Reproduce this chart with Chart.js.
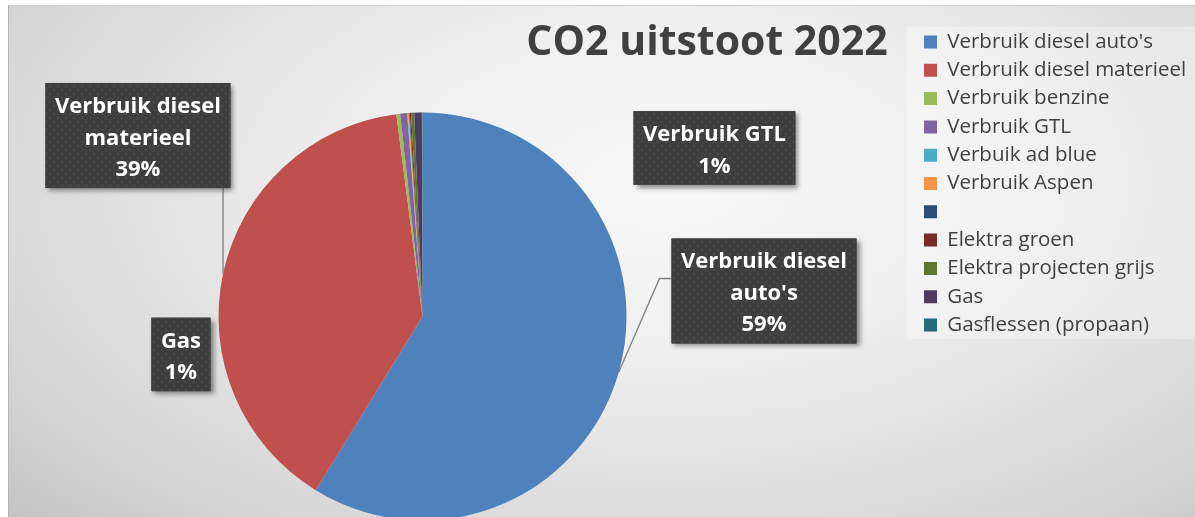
<!DOCTYPE html>
<html>
<head>
<meta charset="utf-8">
<script src="https://cdn.jsdelivr.net/npm/chart.js@4/dist/chart.umd.min.js"></script>
<style>
html, body { margin: 0; padding: 0; width: 1195px; height: 517px; overflow: hidden; background: #fff; }
#frame {
  position: absolute; left: 8px; top: 5px; width: 1187px; height: 512px; overflow: hidden;
  border-left: 1px solid #b4b4b4; border-top: 1px solid #cccccc;
  background: radial-gradient(ellipse 75% 95% at 55% 35%, #f8f8f8 0%, #efefef 35%, #e0e0e0 62%, #d5d5d5 82%, #c4c4c4 100%);
}
#pie { position: absolute; left: -109px; top: -6px; }
</style>
</head>
<body>
<div id="frame"><canvas id="pie" width="1400" height="609"></canvas></div>
<script>
const chartTitle = 'CO2 uitstoot 2022';
const categories = ["Verbruik diesel auto's", 'Verbruik diesel materieel', 'Verbruik benzine', 'Verbruik GTL',
  'Verbuik ad blue', 'Verbruik Aspen', '', 'Elektra groen', 'Elektra projecten grijs', 'Gas', 'Gasflessen (propaan)'];
const values = [58.8, 39.2, 0.3, 0.55, 0.05, 0.1, 0.05, 0.1, 0.25, 0.6, 0.05];
const colors = ['#4f81bd', '#c0504d', '#9bbb59', '#8064a2', '#4bacc6', '#f79646',
  '#2c4d75', '#772c2a', '#5f7530', '#4d3b62', '#276a7c'];

// canvas is shifted 100px left of the page, so the legend can sit at the page's right edge
const SHIFT = 100;
const FONT = '"Open Sans"';
const legFont = 20.5, legPad = 7.8, legBox = 13;
const labelFont = 'bold 22px ' + FONT;

// slice label boxes, placed in pie radii from the centre
const labelPlacement = [
  { index: 0, fx: 1.674, fy: -0.125, leader: 'elbow' },
  { index: 1, fx: -1.395, fy: -0.887, leader: 'vertical' },
  { index: 3, fx: 1.431, fy: -0.826 },
  { index: 9, fx: -1.184, fy: 0.186 }
];

// legend width, so its left edge lands where the reference has it
const mctx = document.createElement('canvas').getContext('2d');
mctx.font = legFont + 'px ' + FONT;
const maxText = Math.max(...categories.map(t => mctx.measureText(t).width));
const legendW = legPad + legBox + legFont / 2 + maxText + 10;
const legendLeft = 924 + SHIFT - legPad;
const padR = 1400 - legendW - legendLeft;
const padL = 2 * (422.5 + SHIFT) - legendLeft;
const padT = 35.5 - legPad - (legFont - legBox) / 2;
const padB = 609 - (2 * 317 - padT);

const dots = document.createElement('canvas');
dots.width = 8; dots.height = 8;
const dctx = dots.getContext('2d');
dctx.fillStyle = '#3e3e3e'; dctx.fillRect(0, 0, 8, 8);
dctx.fillStyle = '#4b4b4b'; dctx.fillRect(1, 1, 2, 2); dctx.fillRect(5, 5, 2, 2);

function wrap(ctx, text, maxW) {
  const words = text.split(' ');
  const lines = [];
  let cur = '';
  words.forEach(w => {
    const t = cur ? cur + ' ' + w : w;
    if (cur && ctx.measureText(t).width > maxW) { lines.push(cur); cur = w; } else cur = t;
  });
  if (cur) lines.push(cur);
  return lines;
}

const backdrop = {
  id: 'backdrop',
  beforeDraw(chart) {
    const ctx = chart.ctx, lg = chart.legend;
    const y0 = lg.top + legPad - 5;
    ctx.save();
    ctx.fillStyle = 'rgba(255,255,255,0.32)';
    ctx.fillRect(lg.left + legPad - 17, y0, 400, 11 * (legFont + legPad) + 1);
    ctx.restore();
  },
  afterDraw(chart) {
    const ctx = chart.ctx;
    ctx.save();
    ctx.font = 'bold 41px ' + FONT;
    ctx.fillStyle = '#404040';
    ctx.textAlign = 'center';
    ctx.textBaseline = 'alphabetic';
    ctx.fillText(chartTitle, 707 + SHIFT, 55);
    ctx.restore();
  }
};

const sliceLabels = {
  id: 'sliceLabels',
  afterDatasetsDraw(chart) {
    const ctx = chart.ctx;
    const meta = chart.getDatasetMeta(0);
    const total = values.reduce((a, b) => a + b, 0);
    ctx.save();
    ctx.font = labelFont;
    labelPlacement.forEach(p => {
      const arc = meta.data[p.index];
      const r = arc.outerRadius;
      const lines = wrap(ctx, categories[p.index], 180);
      lines.push(Math.round(values[p.index] / total * 100) + '%');
      const w = Math.max(...lines.map(l => ctx.measureText(l).width)) + 19;
      const h = lines.length * 31.5 + 10.5;
      const bx = arc.x + p.fx * r - w / 2;
      const by = arc.y + p.fy * r - h / 2;
      const mid = (arc.startAngle + arc.endAngle) / 2;
      const ex = arc.x + Math.cos(mid) * r, ey = arc.y + Math.sin(mid) * r;

      ctx.strokeStyle = '#7f7f7f';
      ctx.lineWidth = 1.3;
      if (p.leader === 'vertical') {
        ctx.beginPath(); ctx.moveTo(ex, ey); ctx.lineTo(ex, by + h); ctx.stroke();
      } else if (p.leader === 'elbow') {
        ctx.beginPath(); ctx.moveTo(ex, ey); ctx.lineTo(bx - 12, by + 40); ctx.lineTo(bx, by + 40); ctx.stroke();
      }

      ctx.save();
      ctx.shadowColor = 'rgba(0,0,0,0.45)';
      ctx.shadowBlur = 5; ctx.shadowOffsetX = 3; ctx.shadowOffsetY = 3;
      ctx.fillStyle = '#3e3e3e';
      ctx.fillRect(bx, by, w, h);
      ctx.restore();
      ctx.fillStyle = ctx.createPattern(dots, 'repeat');
      ctx.fillRect(bx, by, w, h);

      ctx.fillStyle = '#ffffff';
      ctx.textAlign = 'center';
      ctx.textBaseline = 'middle';
      lines.forEach((l, i) => ctx.fillText(l, bx + w / 2, by + 8 + 31.5 * (i + 0.5)));
    });
    ctx.restore();
  }
};

const data = {
  labels: categories,
  datasets: [{
    data: values,
    backgroundColor: colors,
    borderWidth: 0,
    radius: 204
  }]
};

const config = {
  type: 'pie',
  data: data,
  options: {
    responsive: false,
    animation: false,
    layout: { padding: { left: padL, right: padR, top: padT, bottom: padB } },
    plugins: {
      legend: {
        position: 'right',
        align: 'start',
        labels: {
          boxWidth: legBox,
          boxHeight: legBox,
          padding: legPad,
          color: '#404040',
          font: { family: 'Open Sans', size: legFont }
        }
      },
      tooltip: { enabled: false }
    }
  },
  plugins: [backdrop, sliceLabels]
};

new Chart(document.getElementById('pie'), config);
</script>
</body>
</html>
